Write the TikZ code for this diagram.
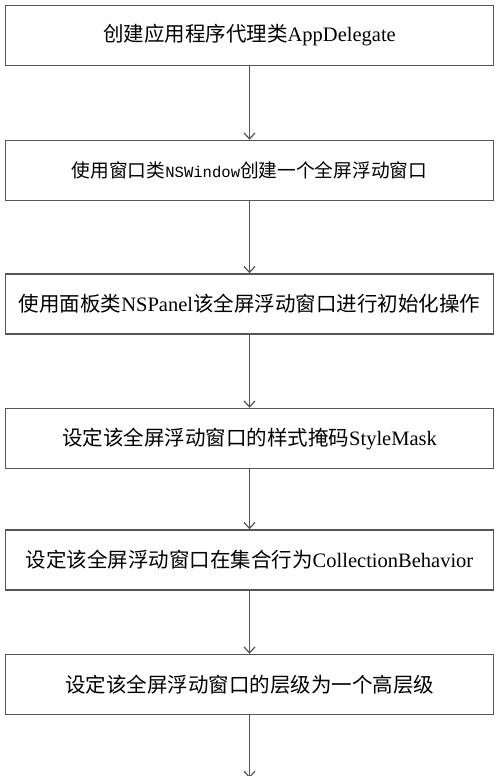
\documentclass[tikz,border=0pt]{standalone}
\usepackage{fontspec}
\setmainfont{Liberation Serif}
\setmonofont{Liberation Mono}
\newfontfamily\cjk{Noto Sans CJK SC}
\usetikzlibrary{positioning,arrows.meta}
\tikzstyle{flowChart} = [x = 1pt, y = -1pt]
\definecolor{lineColor}{RGB}{85,85,85}
\tikzstyle{stepBox} = [draw=lineColor, line width=1.4pt, minimum width=488pt, minimum height=60pt, inner sep=0pt, font=\fontsize{20.5}{24}\selectfont]
\tikzstyle{smallText} = [font=\fontsize{18.7}{22}\selectfont]
\tikzstyle{flowArrow} = [draw=lineColor, line width=1.4pt, -{Straight Barb[length=6pt, width=11pt, line width=1.2pt]}]
\newcommand{\zh}[1]{{\cjk #1}}
\newcommand{\mono}[1]{{\ttfamily\fontsize{15.6}{18}\selectfont #1}}

\begin{document}
\begin{tikzpicture}[flowChart]
       \useasboundingbox (0,0) rectangle (500,776);
       \node [stepBox] (delegate) at (249.5,35.5) {\zh{创建应用程序代理类}AppDelegate};
       \node [stepBox, smallText] (window) at (249.5,170.5) {\zh{使用窗口类}\mono{NSWindow}\zh{创建一个全屏浮动窗口}};
       \node [stepBox] (panel) at (249.5,304) {\zh{使用面板类}NSPanel\zh{该全屏浮动窗口进行初始化操作}};
       \node [stepBox] (styleMask) at (249.5,438.5) {\zh{设定该全屏浮动窗口的样式掩码}StyleMask};
       \node [stepBox] (behavior) at (249.5,560) {\zh{设定该全屏浮动窗口在集合行为}CollectionBehavior};
       \node [stepBox] (level) at (249.5,684.5) {\zh{设定该全屏浮动窗口的层级为一个高层级}};
       \coordinate (next) at (249.5,778);

       \draw [flowArrow] (delegate) -- (window);
       \draw [flowArrow] (window) -- (panel);
       \draw [flowArrow] (panel) -- (styleMask);
       \draw [flowArrow] (styleMask) -- (behavior);
       \draw [flowArrow] (behavior) -- (level);
       \draw [flowArrow] (level) -- (next);
     \end{tikzpicture}
\end{document}
